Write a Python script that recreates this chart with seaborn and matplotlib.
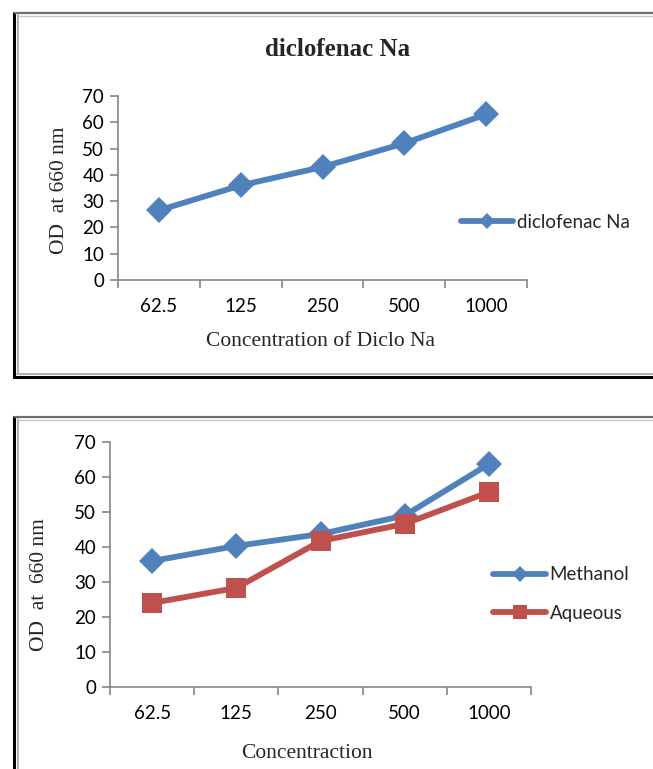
import matplotlib
matplotlib.use("Agg")
import matplotlib.pyplot as plt
from matplotlib.lines import Line2D
from matplotlib.ticker import FixedLocator
import seaborn as sns
import pandas as pd

# ---- data ----
concentrations = ["62.5", "125", "250", "500", "1000"]
diclofenac_od = [26.5, 36, 43, 52, 63]
methanol_od = [36, 40.3, 43.7, 49, 63.7]
aqueous_od = [24, 28.3, 41.7, 46.6, 55.7]
yticks = [0, 10, 20, 30, 40, 50, 60, 70]

BLUE = "#4F81BD"
RED = "#C0504D"
AXIS_GRAY = "#868686"

sns.set_theme(style="white")
plt.rcParams["font.family"] = ["Lato", "DejaVu Sans"]

W, H = 653, 769
fig = plt.figure(figsize=(W / 100, H / 100), dpi=100)
fig.patch.set_facecolor("white")

TICK_FS = 13.5
LEG_FS = 13.5
SERIF = ["Liberation Serif"]


def fx(px):
    return px / W


def fy(py):
    return 1 - py / H


def frame(x0, y0, x1, y1):
    fig.add_artist(Line2D([fx(x0), fx(x0)], [fy(y0), fy(y1)], color="black", lw=2.2))
    fig.add_artist(Line2D([fx(x0 + 1), fx(x1)], [fy(y0), fy(y0)], color="#6e6e6e", lw=1.6))
    fig.add_artist(Line2D([fx(x0 + 4), fx(x0 + 4)], [fy(y0 + 2), fy(y1 - 3)], color="#b0b0b0", lw=1.4))
    fig.add_artist(Line2D([fx(x0 + 4), fx(x1)], [fy(y0 + 3), fy(y0 + 3)], color="#c8c8c8", lw=1.0))


def style_axes(ax):
    for s in ["top", "right"]:
        ax.spines[s].set_visible(False)
    for s in ["left", "bottom"]:
        ax.spines[s].set_color(AXIS_GRAY)
        ax.spines[s].set_linewidth(1.2)
    ax.set_xlim(-0.5, len(concentrations) - 0.5)
    ax.set_ylim(0, 70)
    ax.set_yticks(yticks)
    ax.set_xticks(range(len(concentrations)))
    ax.set_xticklabels(concentrations)
    ax.xaxis.set_minor_locator(FixedLocator([i - 0.5 for i in range(len(concentrations) + 1)]))
    ax.tick_params(axis="x", which="major", length=0, pad=13, labelsize=TICK_FS, colors="black")
    ax.tick_params(axis="x", which="minor", length=6, width=1.2, color=AXIS_GRAY, direction="out", bottom=True)
    ax.tick_params(axis="y", which="major", length=6, width=1.2, color=AXIS_GRAY, direction="out",
                   left=True, pad=4, labelsize=TICK_FS, labelcolor="black")
    ax.grid(False)
    ax.set_facecolor("white")


# ---------------- top chart ----------------
frame(14, 13, 660, 377)
fig.add_artist(Line2D([fx(14), fx(660)], [fy(377), fy(377)], color="black", lw=2.2))
fig.add_artist(Line2D([fx(17), fx(660)], [fy(374), fy(374)], color="#b0b0b0", lw=1.4))

ax1 = fig.add_axes([fx(118), fy(280), fx(527) - fx(118), fy(96) - fy(280)])
df_top = pd.DataFrame({"conc": concentrations, "od": diclofenac_od, "series": "diclofenac Na"})
sns.lineplot(data=df_top, x="conc", y="od", hue="series", palette={"diclofenac Na": BLUE},
             marker="D", markersize=13, markeredgewidth=0, linewidth=4.2, ax=ax1,
             sort=False, legend=True)
style_axes(ax1)
ax1.set_xlabel("Concentration of Diclo Na", family=SERIF, fontsize=15.5)
ax1.xaxis.set_label_coords((321 - 118) / (527 - 118), -(341 - 280) / (280 - 96))
ax1.xaxis.label.set_va("center")
ax1.set_ylabel("OD  at 660 nm", family=SERIF, fontsize=15.5)
ax1.yaxis.set_label_coords(-(118 - 60) / (527 - 118), (280 - 190) / (280 - 96))
ax1.yaxis.label.set_va("center")
fig.text(fx(338), fy(50), "diclofenac Na", family=SERIF, fontsize=18,
         fontweight="bold", ha="center", va="center")
leg1 = ax1.legend(loc="center left", bbox_to_anchor=(fx(452), fy(222)), bbox_transform=fig.transFigure,
                  frameon=False, fontsize=LEG_FS, handlelength=2.75, handletextpad=0.2, borderpad=0)
for h in leg1.legend_handles:
    h.set_markersize(8)
    h.set_linewidth(4.2)

# ---------------- bottom chart ----------------
frame(14, 417, 660, 780)

ax2 = fig.add_axes([fx(110), fy(687), fx(531) - fx(110), fy(442) - fy(687)])
df_bot = pd.DataFrame({
    "conc": concentrations * 2,
    "od": methanol_od + aqueous_od,
    "series": ["Methanol"] * len(concentrations) + ["Aqueous"] * len(concentrations),
})
sns.lineplot(data=df_bot, x="conc", y="od", hue="series", style="series",
             palette={"Methanol": BLUE, "Aqueous": RED},
             markers={"Methanol": "D", "Aqueous": "s"}, dashes=False,
             markersize=13, markeredgewidth=0, linewidth=4.2, ax=ax2, sort=False)
for line in ax2.get_lines():
    if line.get_marker() == "s":
        line.set_markersize(15)
style_axes(ax2)
ax2.set_xlabel("Concentraction", family=SERIF, fontsize=15.5)
ax2.xaxis.set_label_coords((307 - 110) / (531 - 110), -(753 - 687) / (687 - 442))
ax2.xaxis.label.set_va("center")
ax2.set_ylabel("OD  at  660 nm", family=SERIF, fontsize=15.5)
ax2.yaxis.set_label_coords(-(110 - 40) / (531 - 110), (687 - 585) / (687 - 442))
ax2.yaxis.label.set_va("center")
leg2 = ax2.legend(loc="center left", bbox_to_anchor=(fx(484), fy(594)), bbox_transform=fig.transFigure,
                  frameon=False, fontsize=LEG_FS, handlelength=2.8, handletextpad=0.2, borderpad=0,
                  labelspacing=1.15)
for h in leg2.legend_handles:
    h.set_linewidth(4.2)
    h.set_markersize(8 if h.get_marker() == "D" else 10)

fig.savefig("out.png", dpi=100, facecolor="white")
